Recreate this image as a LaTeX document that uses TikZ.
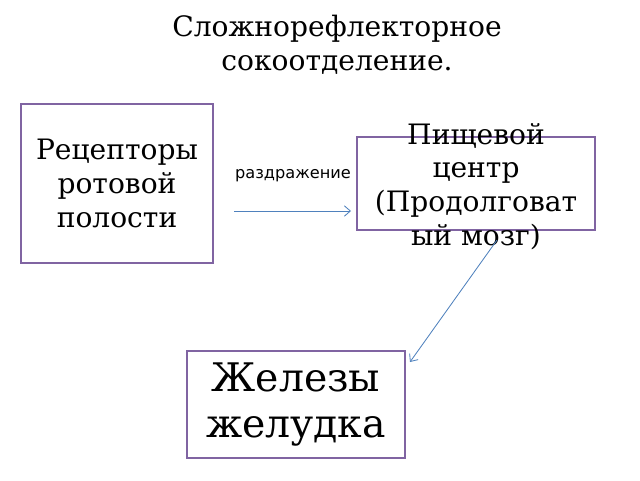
\documentclass[tikz,border=0pt]{standalone}
\usepackage{fontspec}
\setmainfont{DejaVu Serif}
\newfontfamily\labelfont{DejaVu Sans}
\usepackage{tikz}
\usetikzlibrary{calc,arrows.meta}

\definecolor{boxline}{HTML}{8064A2}
\definecolor{arrline}{HTML}{4F81BD}

\tikzset{
    box/.style={draw=boxline, line width=1.4pt, align=center, inner sep=0pt},
    arr/.style={-{Straight Barb[length=1.5mm, width=2.6mm]}, draw=arrline, line width=0.6pt}
}

\begin{document}
\begin{tikzpicture}
    \useasboundingbox (0,0) rectangle (16,-12);

    % Title
    \node[align=center, font=\fontsize{20}{24}\selectfont] (title) at (8.425,-1.125)
        {Сложнорефлекторное\\сокоотделение.};

    % Boxes
    \node[box, minimum width=4.8cm, minimum height=3.975cm, font=\fontsize{20}{24}\selectfont]
        (receptors) at (2.925,-4.5875) {Рецепторы\\ротовой\\полости};
    \node[box, minimum width=5.95cm, minimum height=2.325cm] (centre) at (11.9,-4.5875) {};
    \node[align=center, font=\fontsize{20}{24}\selectfont] (centretext) at (11.9,-4.66)
        {Пищевой\\центр\\(Продолговат\\ый мозг)};
    \node[box, minimum width=5.45cm, minimum height=2.675cm, font=\fontsize{28}{33}\selectfont]
        (glands) at (7.4,-10.1125) {Железы\\желудка};

    % Connectors
    \coordinate (irrstart) at (5.85,-5.275);
    \coordinate (irrend) at (8.775,-5.275);
    \node[font=\labelfont\fontsize{11.5}{14}\selectfont] (irritation) at (7.325,-4.4) {раздражение};
    \draw[arr] (irrstart) -- (irrend);

    \coordinate (signal) at (12.425,-6.0);
    \coordinate (glandtip) at (10.25,-9.05);
    \draw[arr] (signal) -- (glandtip);
\end{tikzpicture}
\end{document}
